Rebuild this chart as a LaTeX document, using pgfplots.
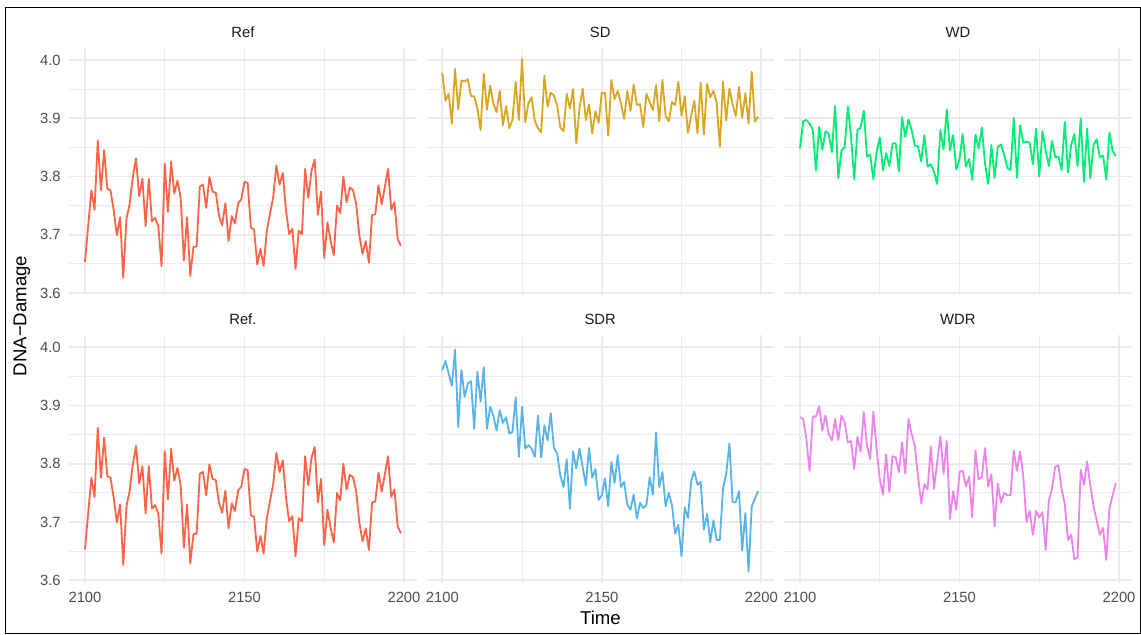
\documentclass[border=0pt]{standalone}
\usepackage{pgfplots}
\pgfplotsset{compat=1.18}
\usepackage{pgfplotstable}
\usepackage{fontspec}
\setmainfont{Liberation Sans}

\definecolor{cref}{HTML}{FF6347}
\definecolor{csd}{HTML}{DAA520}
\definecolor{cwd}{HTML}{00EE76}
\definecolor{csdr}{HTML}{56B4E9}
\definecolor{cwdr}{HTML}{EE82EE}
\definecolor{gridc}{HTML}{EBEBEB}
\definecolor{tickc}{HTML}{4D4D4D}
\definecolor{stripc}{HTML}{1A1A1A}

\pgfplotstableread{
t v
2100 3.653
2101 3.715
2102 3.776
2103 3.743
2104 3.862
2105 3.776
2106 3.845
2107 3.779
2108 3.776
2109 3.742
2110 3.699
2111 3.730
2112 3.626
2113 3.727
2114 3.753
2115 3.799
2116 3.831
2117 3.766
2118 3.796
2119 3.715
2120 3.796
2121 3.723
2122 3.729
2123 3.714
2124 3.646
2125 3.822
2126 3.739
2127 3.826
2128 3.771
2129 3.793
2130 3.763
2131 3.656
2132 3.730
2133 3.629
2134 3.679
2135 3.680
2136 3.783
2137 3.786
2138 3.746
2139 3.799
2140 3.774
2141 3.772
2142 3.733
2143 3.716
2144 3.754
2145 3.689
2146 3.732
2147 3.719
2148 3.754
2149 3.761
2150 3.791
2151 3.789
2152 3.712
2153 3.709
2154 3.649
2155 3.676
2156 3.646
2157 3.707
2158 3.736
2159 3.765
2160 3.819
2161 3.786
2162 3.806
2163 3.742
2164 3.701
2165 3.710
2166 3.641
2167 3.707
2168 3.701
2169 3.813
2170 3.763
2171 3.810
2172 3.829
2173 3.734
2174 3.774
2175 3.660
2176 3.721
2177 3.690
2178 3.665
2179 3.750
2180 3.737
2181 3.800
2182 3.756
2183 3.781
2184 3.777
2185 3.753
2186 3.699
2187 3.667
2188 3.689
2189 3.652
2190 3.734
2191 3.735
2192 3.785
2193 3.752
2194 3.782
2195 3.813
2196 3.743
2197 3.756
2198 3.693
2199 3.681
}\tRef

\pgfplotstableread{
t v
2100 3.978
2101 3.930
2102 3.942
2103 3.891
2104 3.985
2105 3.915
2106 3.965
2107 3.963
2108 3.967
2109 3.938
2110 3.938
2111 3.917
2112 3.880
2113 3.977
2114 3.915
2115 3.956
2116 3.926
2117 3.910
2118 3.947
2119 3.888
2120 3.921
2121 3.883
2122 3.897
2123 3.963
2124 3.897
2125 4.002
2126 3.893
2127 3.926
2128 3.936
2129 3.896
2130 3.883
2131 3.876
2132 3.973
2133 3.920
2134 3.944
2135 3.939
2136 3.922
2137 3.884
2138 3.878
2139 3.942
2140 3.917
2141 3.950
2142 3.857
2143 3.917
2144 3.951
2145 3.897
2146 3.924
2147 3.874
2148 3.912
2149 3.892
2150 3.944
2151 3.944
2152 3.870
2153 3.966
2154 3.933
2155 3.947
2156 3.926
2157 3.899
2158 3.947
2159 3.913
2160 3.958
2161 3.923
2162 3.924
2163 3.885
2164 3.942
2165 3.928
2166 3.914
2167 3.957
2168 3.895
2169 3.966
2170 3.904
2171 3.895
2172 3.928
2173 3.923
2174 3.963
2175 3.904
2176 3.938
2177 3.875
2178 3.904
2179 3.930
2180 3.874
2181 3.961
2182 3.872
2183 3.959
2184 3.936
2185 3.947
2186 3.927
2187 3.851
2188 3.963
2189 3.896
2190 3.951
2191 3.924
2192 3.904
2193 3.954
2194 3.901
2195 3.943
2196 3.891
2197 3.980
2198 3.894
2199 3.903
}\tSD

\pgfplotstableread{
t v
2100 3.848
2101 3.895
2102 3.897
2103 3.891
2104 3.880
2105 3.810
2106 3.885
2107 3.846
2108 3.878
2109 3.873
2110 3.842
2111 3.921
2112 3.797
2113 3.845
2114 3.850
2115 3.920
2116 3.868
2117 3.795
2118 3.880
2119 3.884
2120 3.913
2121 3.834
2122 3.838
2123 3.795
2124 3.842
2125 3.867
2126 3.811
2127 3.840
2128 3.818
2129 3.857
2130 3.857
2131 3.809
2132 3.902
2133 3.868
2134 3.898
2135 3.880
2136 3.853
2137 3.852
2138 3.826
2139 3.871
2140 3.817
2141 3.821
2142 3.808
2143 3.787
2144 3.880
2145 3.847
2146 3.915
2147 3.845
2148 3.871
2149 3.812
2150 3.830
2151 3.873
2152 3.817
2153 3.830
2154 3.794
2155 3.872
2156 3.848
2157 3.884
2158 3.822
2159 3.787
2160 3.854
2161 3.798
2162 3.851
2163 3.855
2164 3.837
2165 3.815
2166 3.811
2167 3.901
2168 3.798
2169 3.888
2170 3.858
2171 3.860
2172 3.858
2173 3.821
2174 3.882
2175 3.800
2176 3.878
2177 3.845
2178 3.818
2179 3.861
2180 3.833
2181 3.834
2182 3.811
2183 3.894
2184 3.807
2185 3.854
2186 3.873
2187 3.818
2188 3.900
2189 3.791
2190 3.882
2191 3.797
2192 3.854
2193 3.864
2194 3.833
2195 3.836
2196 3.795
2197 3.875
2198 3.844
2199 3.835
}\tWD

\pgfplotstableread{
t v
2100 3.961
2101 3.977
2102 3.955
2103 3.934
2104 3.996
2105 3.863
2106 3.961
2107 3.915
2108 3.938
2109 3.942
2110 3.860
2111 3.958
2112 3.907
2113 3.966
2114 3.860
2115 3.898
2116 3.883
2117 3.857
2118 3.892
2119 3.870
2120 3.880
2121 3.852
2122 3.855
2123 3.914
2124 3.812
2125 3.898
2126 3.826
2127 3.832
2128 3.826
2129 3.812
2130 3.883
2131 3.811
2132 3.866
2133 3.840
2134 3.887
2135 3.827
2136 3.818
2137 3.780
2138 3.760
2139 3.808
2140 3.723
2141 3.821
2142 3.792
2143 3.826
2144 3.794
2145 3.763
2146 3.827
2147 3.776
2148 3.791
2149 3.738
2150 3.746
2151 3.775
2152 3.727
2153 3.803
2154 3.767
2155 3.815
2156 3.760
2157 3.769
2158 3.730
2159 3.721
2160 3.747
2161 3.706
2162 3.733
2163 3.724
2164 3.729
2165 3.777
2166 3.747
2167 3.854
2168 3.760
2169 3.786
2170 3.727
2171 3.750
2172 3.729
2173 3.680
2174 3.695
2175 3.641
2176 3.725
2177 3.707
2178 3.770
2179 3.787
2180 3.764
2181 3.769
2182 3.687
2183 3.714
2184 3.665
2185 3.703
2186 3.669
2187 3.669
2188 3.758
2189 3.783
2190 3.835
2191 3.734
2192 3.734
2193 3.753
2194 3.651
2195 3.715
2196 3.615
2197 3.727
2198 3.740
2199 3.753
}\tSDR

\pgfplotstableread{
t v
2100 3.880
2101 3.877
2102 3.843
2103 3.788
2104 3.881
2105 3.881
2106 3.899
2107 3.857
2108 3.883
2109 3.851
2110 3.840
2111 3.877
2112 3.841
2113 3.883
2114 3.871
2115 3.837
2116 3.839
2117 3.791
2118 3.846
2119 3.821
2120 3.889
2121 3.831
2122 3.808
2123 3.890
2124 3.826
2125 3.774
2126 3.747
2127 3.816
2128 3.751
2129 3.813
2130 3.811
2131 3.786
2132 3.837
2133 3.783
2134 3.877
2135 3.851
2136 3.831
2137 3.778
2138 3.732
2139 3.765
2140 3.756
2141 3.830
2142 3.757
2143 3.803
2144 3.847
2145 3.783
2146 3.839
2147 3.705
2148 3.753
2149 3.721
2150 3.786
2151 3.788
2152 3.761
2153 3.778
2154 3.708
2155 3.823
2156 3.773
2157 3.777
2158 3.827
2159 3.761
2160 3.782
2161 3.692
2162 3.766
2163 3.733
2164 3.750
2165 3.746
2166 3.746
2167 3.823
2168 3.788
2169 3.821
2170 3.778
2171 3.700
2172 3.719
2173 3.678
2174 3.719
2175 3.708
2176 3.717
2177 3.652
2178 3.737
2179 3.757
2180 3.795
2181 3.797
2182 3.757
2183 3.731
2184 3.669
2185 3.678
2186 3.636
2187 3.639
2188 3.790
2189 3.764
2190 3.804
2191 3.763
2192 3.727
2193 3.703
2194 3.678
2195 3.690
2196 3.635
2197 3.724
2198 3.746
2199 3.767
}\tWDR

\pgfplotsset{
  panel/.style={
    scale only axis, width=173.7pt, height=123.9pt,
    anchor=south west,
    xmin=2095.05, xmax=2203.95, ymin=3.5957, ymax=4.0214,
    xtick={2100,2150,2200}, minor xtick={2125,2175},
    ytick={3.6,3.7,3.8,3.9,4.0}, minor ytick={3.65,3.75,3.85,3.95},
    grid=both,
    major grid style={draw=gridc, line width=0.9pt},
    minor grid style={draw=gridc, line width=0.5pt},
    axis line style={draw=none},
    major tick length=0pt, minor tick length=0pt,
    xticklabels={}, yticklabels={},
    title style={at={(0.5,1)}, anchor=base, yshift=-0.7pt, inner sep=0pt,
      font=\fontsize{7.4}{9}\selectfont, text=stripc},
  },
  leftcol/.style={
    yticklabels={3.6,3.7,3.8,3.9,4.0},
    yticklabel style={inner sep=0pt, xshift=-4.1pt, font=\fontsize{7.4}{9}\selectfont, text=tickc},
  },
  bottomrow/.style={
    xticklabels={2100,2150,2200},
    xticklabel style={inner sep=0pt, yshift=-4.4pt, font=\fontsize{7.4}{9}\selectfont, text=tickc},
  },
  dline/.style={line width=0.9pt, mark=none, line join=round},
}

\begin{document}
\begin{tikzpicture}
\useasboundingbox (0,0) rectangle (570.5pt,-317pt);

\begin{axis}[panel, leftcol, at={(34.6pt,-147.7pt)}, title={Ref}]
\addplot[dline, cref] table[x=t,y=v] {\tRef};
\end{axis}
\begin{axis}[panel, at={(213.25pt,-147.7pt)}, title={SD}]
\addplot[dline, csd] table[x=t,y=v] {\tSD};
\end{axis}
\begin{axis}[panel, at={(392.1pt,-147.7pt)}, title={WD}]
\addplot[dline, cwd] table[x=t,y=v] {\tWD};
\end{axis}

\begin{axis}[panel, leftcol, bottomrow, at={(34.6pt,-291.35pt)}, title={Ref.}]
\addplot[dline, cref] table[x=t,y=v] {\tRef};
\end{axis}
\begin{axis}[panel, bottomrow, at={(213.25pt,-291.35pt)}, title={SDR}]
\addplot[dline, csdr] table[x=t,y=v] {\tSDR};
\end{axis}
\begin{axis}[panel, bottomrow, at={(392.1pt,-291.35pt)}, title={WDR}]
\addplot[dline, cwdr] table[x=t,y=v] {\tWDR};
\end{axis}

\node[font=\fontsize{9.3}{11}\selectfont, inner sep=0pt] at (300.2pt,-309pt) {Time};
\node[font=\fontsize{9.3}{11}\selectfont, inner sep=0pt, rotate=90] at (11pt,-158pt) {DNA−Damage};

\draw[black, line width=0.65pt] (2.7pt,-3.85pt) rectangle (570.1pt,-316.6pt);
\end{tikzpicture}
\end{document}
